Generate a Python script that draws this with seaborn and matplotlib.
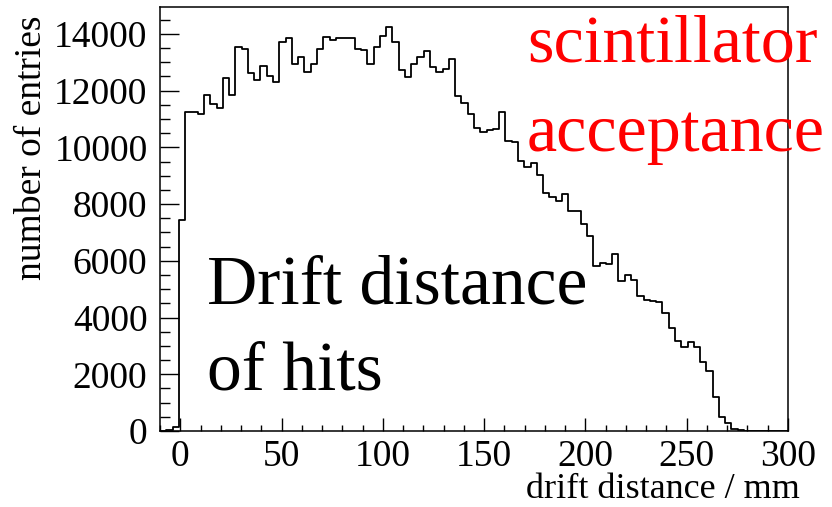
import numpy as np
import pandas as pd
import matplotlib
matplotlib.use("Agg")
import matplotlib.pyplot as plt
from matplotlib.ticker import MultipleLocator
import seaborn as sns

# ---- data ----
x_min, x_max, n_bins = -10.0, 300.0, 100
counts = [
    0, 20, 150, 7430, 11260, 11230, 11180, 11830, 11520, 11400,
    12460, 11830, 13520, 13480, 12630, 12380, 12880, 12530, 12320, 13720,
    13850, 12950, 13180, 12660, 12950, 13470, 13880, 13790, 13870, 13840,
    13850, 13450, 13440, 12920, 13520, 13930, 14225, 13700, 12720, 12470,
    12920, 13180, 13380, 12840, 12650, 12770, 13100, 11810, 11580, 11190,
    10690, 10550, 10600, 10640, 11230, 10210, 10180, 9530, 9320, 9450,
    9030, 8400, 8250, 8110, 8370, 7750, 7750, 7300, 6870, 5820,
    5920, 5900, 6230, 5290, 5490, 5310, 4770, 4610, 4590, 4560,
    4160, 3615, 3160, 2970, 3130, 2945, 2420, 2100, 1200, 500,
    272, 70, 25, 12, 8, 5, 3, 2, 1, 0,
]
x_ticks = [0, 50, 100, 150, 200, 250, 300]
y_ticks = [0, 2000, 4000, 6000, 8000, 10000, 12000, 14000]
x_label = "drift distance / mm"
y_label = "number of entries"
title_lines = ["Drift distance", "of hits"]
note_lines = ["scintillator", "acceptance"]

edges = np.linspace(x_min, x_max, n_bins + 1)
centers = 0.5 * (edges[:-1] + edges[1:])
df = pd.DataFrame({"drift": centers, "entries": counts})

# ---- style ----
sns.set_theme(style="ticks")
plt.rcParams["font.family"] = ["Liberation Serif", "DejaVu Serif"]
plt.rcParams["axes.linewidth"] = 1.1
plt.rcParams["text.color"] = "black"
plt.rcParams["axes.labelcolor"] = "black"
plt.rcParams["xtick.color"] = "black"
plt.rcParams["ytick.color"] = "black"

W, H = 832, 507
fig = plt.figure(figsize=(W / 100, H / 100), dpi=100)
L, R, T, B = 160, 788, 7.3, 431
ax = fig.add_axes([L / W, 1 - B / H, (R - L) / W, (B - T) / H])

sns.histplot(data=df, x="drift", weights="entries", bins=edges.tolist(),
             element="step", fill=False, color="black", linewidth=1.3, ax=ax)

ax.set_xlim(x_min, x_max)
ax.set_ylim(0, 1.05 * max(counts))
ax.set_xticks(x_ticks)
ax.set_yticks(y_ticks)
ax.xaxis.set_minor_locator(MultipleLocator(10))
ax.yaxis.set_minor_locator(MultipleLocator(500))

for s in ax.spines.values():
    s.set_visible(True)
    s.set_color("black")

ax.tick_params(axis="both", which="both", direction="in", colors="black",
               labelcolor="black", top=False, right=False, labelsize=27)
ax.tick_params(axis="y", which="major", length=13.7, width=1.0, pad=9)
ax.tick_params(axis="y", which="minor", length=7.2, width=1.0)
ax.tick_params(axis="x", which="major", length=9.1, width=1.0, pad=6)
ax.tick_params(axis="x", which="minor", length=4.6, width=1.0)

ax.set_xlabel(x_label, fontsize=26, ha="right", va="baseline", color="black")
ax.xaxis.set_label_coords((800 - L) / (R - L), (B - 498) / (B - T))
ax.set_ylabel(y_label, fontsize=27, ha="right", va="baseline", color="black")
ax.yaxis.set_label_coords((41 - L) / (R - L), (B - 15) / (B - T))

fig.text(207 / W, 1 - 303 / H, title_lines[0], fontsize=50, color="black",
         ha="left", va="baseline")
fig.text(207 / W, 1 - 389 / H, title_lines[1], fontsize=50, color="black",
         ha="left", va="baseline")
fig.text(527 / W, 1 - 62 / H, note_lines[0], fontsize=49, color="red",
         ha="left", va="baseline")
fig.text(527 / W, 1 - 151 / H, note_lines[1], fontsize=49, color="red",
         ha="left", va="baseline")

fig.savefig("out.png", dpi=100, facecolor="white")
